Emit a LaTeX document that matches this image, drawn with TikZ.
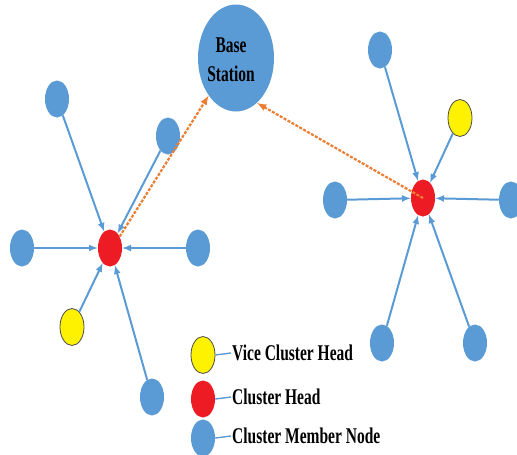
\documentclass[tikz,border=0pt]{standalone}
\usepackage{fontspec}
\setmainfont{Liberation Serif}
\usetikzlibrary{shapes.geometric}
\definecolor{memberblue}{RGB}{91,155,213}
\definecolor{headred}{RGB}{237,28,36}
\definecolor{viceyellow}{RGB}{255,242,0}
\definecolor{linkorange}{RGB}{237,125,49}
\begin{document}
\begin{tikzpicture}[>=latex,x=1pt,y=-1pt,
	knoten/.style={ellipse,minimum width=24pt,minimum height=37pt,inner sep=0pt},
	member/.style={knoten,fill=memberblue},
	head/.style={knoten,fill=headred},
	vice/.style={knoten,fill=viceyellow,draw=black!70,line width=0.8pt},
	link/.style={->,draw=memberblue,line width=2pt},
	uplink/.style={->,draw=linkorange,line width=2.2pt,dash pattern=on 3pt off 1.5pt},
	schrift/.style={font=\fontsize{15.5}{20}\selectfont\bfseries,yscale=1.45,transform shape}]
\useasboundingbox (0,0) rectangle (517,455);
% base station
\node[ellipse,fill=memberblue,minimum width=76pt,minimum height=107pt] (bs) at (236,58) {};
\node[schrift,align=center] (bslabel) at (231,60) {Base\\Station};
% left cluster
\node[head] (chL) at (110,248) {};
\node[member] (mL1) at (57,99) {};
\node[member] (mL2) at (168,136) {};
\node[member] (mL3) at (22,248) {};
\node[member] (mL4) at (198,248) {};
\node[member] (mL5) at (152,397) {};
\node[vice] (vL) at (72,327) {};
\foreach \m in {mL1,mL2,mL3,mL4,mL5,vL}{
	\draw[link] (\m) -- (chL);
}
% right cluster
\node[head] (chR) at (423,198) {};
\node[member] (mR1) at (380,50) {};
\node[member] (mR2) at (335,200) {};
\node[member] (mR3) at (511,200) {};
\node[member] (mR4) at (382,343) {};
\node[member] (mR5) at (475,343) {};
\node[vice] (vR) at (460,118) {};
\foreach \m in {mR1,mR2,mR3,mR4,mR5,vR}{
	\draw[link] (\m) -- (chR);
}
% heads to base station
\draw[uplink] (chL.50) -- (bs.-126);
\draw[uplink] (chR.center) -- (bs.-65);
% legend
\node[vice] (lgV) at (203,355) {};
\node[head] (lgH) at (203,399) {};
\node[member] (lgM) at (203,438) {};
\node[schrift,anchor=west,inner sep=1pt] (txV) at (231,353) {Vice Cluster Head};
\node[schrift,anchor=west,inner sep=1pt] (txH) at (231,397) {Cluster Head};
\node[schrift,anchor=west,inner sep=1pt] (txM) at (231,436) {Cluster Member Node};
\foreach \a/\b in {lgV/txV,lgH/txH,lgM/txM}{
	\draw[memberblue,line width=1.4pt] (\a.east) -- (\b.west);
}
\end{tikzpicture}
\end{document}
